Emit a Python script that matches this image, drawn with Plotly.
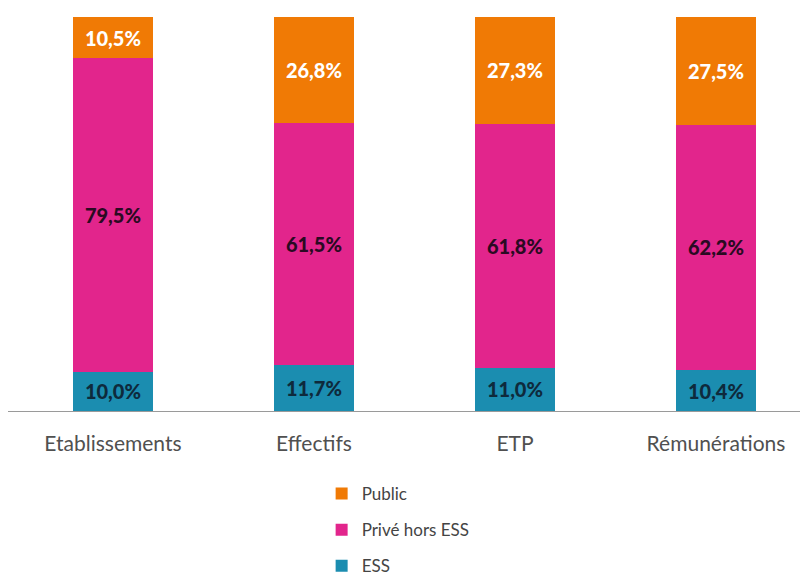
import plotly.graph_objects as go

categories = ["Etablissements", "Effectifs", "ETP", "Rémunérations"]
ess = [10.0, 11.7, 11.0, 10.4]
prive = [79.5, 61.5, 61.8, 62.2]
public = [10.5, 26.8, 27.3, 27.5]

def fmt(vals):
    return [f"{v:.1f}%".replace(".", ",") for v in vals]

series = [
    ("ESS", ess, "#1B8DB0", "#0E2A3C", 3),
    ("Privé hors ESS", prive, "#E2258C", "#2A0A22", 2),
    ("Public", public, "#F07A05", "#FFFFFF", 1),
]

fig = go.Figure()
for name, vals, color, tcolor, rank in series:
    fig.add_trace(go.Bar(
        x=categories, y=vals, name=name, text=fmt(vals),
        marker=dict(color=color, line=dict(width=0)),
        textposition="inside", insidetextanchor="middle",
        textfont=dict(color=tcolor, size=20, family="Lato", weight=900),
        width=0.4, legendgroup=name, legendrank=rank, hoverinfo="skip",
    ))

fig.update_layout(
    barmode="stack",
    width=803, height=576,
    margin=dict(l=0, r=11, t=9, b=172),
    plot_bgcolor="white", paper_bgcolor="white",
    xaxis=dict(
        range=[-0.522, 3.418], showgrid=False, showline=True,
        linecolor="#9A9A9A", linewidth=1, ticks="outside", ticklen=14,
        tickcolor="rgba(0,0,0,0)",
        tickfont=dict(size=21, color="#505050", family="Lato"),
    ),
    yaxis=dict(range=[0, 100], visible=False, showgrid=False),
    legend=dict(
        x=0.396, y=-0.165, xanchor="left", yanchor="top",
        orientation="v", traceorder="grouped", tracegroupgap=11,
        font=dict(size=17, color="#444444", family="Lato"),
        itemwidth=30,
    ),
    showlegend=True,
)

fig.write_html("out.html")
